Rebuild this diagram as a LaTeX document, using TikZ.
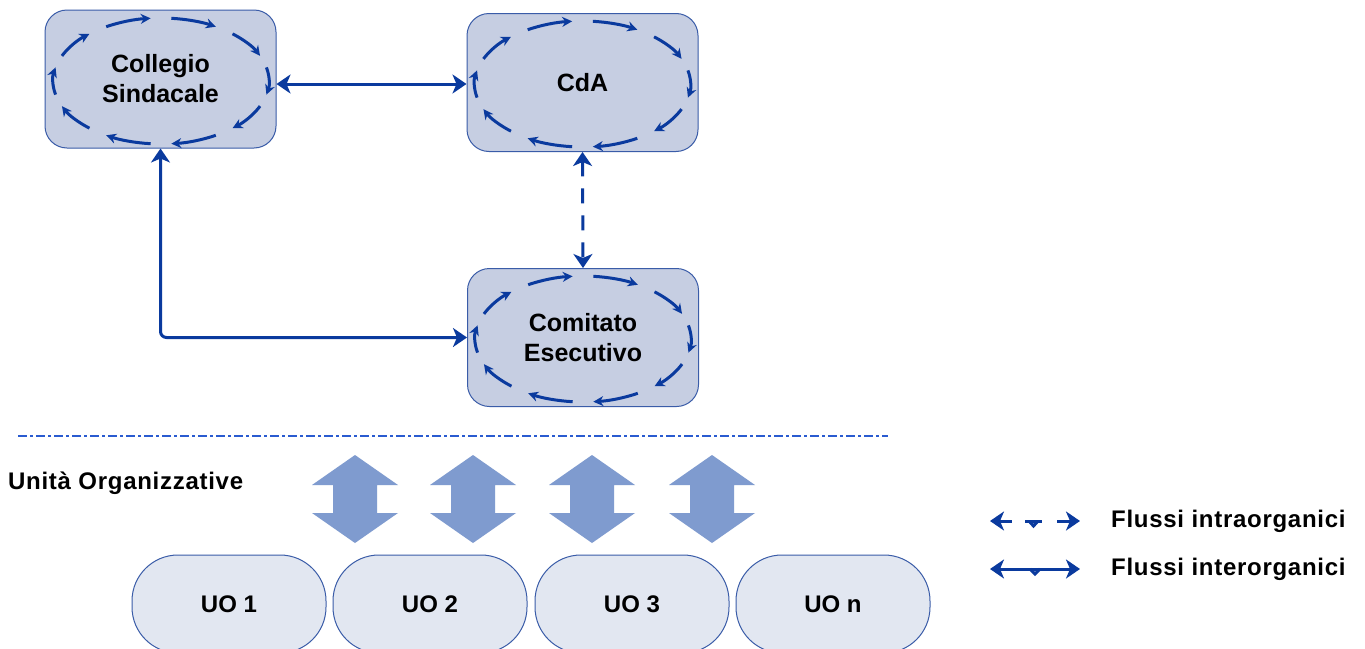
\documentclass[tikz,border=0pt]{standalone}
\usepackage{fontspec}
\setmainfont{Liberation Sans}
\newfontfamily\spaced{Liberation Sans}[LetterSpace=3]
\usetikzlibrary{arrows.meta,calc}
\definecolor{boxc}{HTML}{C6CEE2}
\definecolor{bordc}{HTML}{3A5CA8}
\definecolor{uoc}{HTML}{E2E7F1}
\definecolor{linkc}{HTML}{0A3A9E}
\definecolor{blockc}{HTML}{7F9BCF}
\definecolor{sepc}{HTML}{2A5BD0}
\tikzset{
  organ/.style={draw=bordc, fill=boxc, line width=1pt, rounded corners=22pt,
    minimum width=231pt, minimum height=138pt, align=center,
    font=\fontsize{25}{30}\selectfont\bfseries},
  uo/.style={draw=bordc, fill=uoc, line width=1pt, rounded corners=46pt,
    minimum width=194pt, minimum height=98pt,
    font=\fontsize{24}{28}\selectfont\bfseries},
  link/.style={draw=linkc, line width=3pt},
  tips/.style={{Stealth[length=14pt,width=19pt,inset=4pt]}-{Stealth[length=14pt,width=19pt,inset=4pt]}},
  ltip/.style={{Stealth[length=14pt,width=19pt,inset=4pt]}-},
  rtip/.style={-{Stealth[length=14pt,width=19pt,inset=4pt]}},
  flow/.style={draw=linkc, line width=3pt, -{Stealth[length=10pt,width=10pt]}},
  sep/.style={draw=sepc, line width=1.3pt, dash pattern=on 9pt off 3pt on 3pt off 3pt},
  lab/.style={font=\spaced\fontsize{24}{28}\selectfont\bfseries},
  updown/.pic={\fill[blockc] (0,-44) -- (43,-14) -- (22,-14) -- (22,14) -- (43,14)
     -- (0,44) -- (-43,14) -- (-22,14) -- (-22,-14) -- (-43,-14) -- cycle;}
}
\newcommand{\innerflow}[4]{%
  \foreach \k in {0,...,9}{%
    \pgfmathsetmacro{\sa}{-90+36*\k+5.5}%
    \pgfmathsetmacro{\ea}{-90+36*\k+30.5}%
    \draw[flow] (#1,#2) ++(\sa:#3 and #4) arc[start angle=\sa, end angle=\ea, x radius=#3, y radius=#4];
  }}
\begin{document}
\begin{tikzpicture}[x=1pt,y=-1pt]
\useasboundingbox (0,0) rectangle (1365,648);
\clip (0,0) rectangle (1365,648);
\fill[white] (0,0) rectangle (1365,648);

% organ boxes
\node[organ] (cs) at (160.5,79) {Collegio\\Sindacale};
\node[organ] (cda) at (582.5,82.5) {CdA};
\node[organ] (ce) at (583,337.5) {Comitato\\Esecutivo};

\innerflow{161}{81}{108}{63}
\innerflow{582.5}{84}{108}{63}
\innerflow{583}{339}{108}{63}

% connectors
\draw[link,tips] (cs.east |- 0,84) -- (cda.west |- 0,84);
\draw[link,tips,dash pattern=on 15pt off 12pt] (cda.south) -- (ce.north);
\draw[link,tips,rounded corners=6pt] (cs.south) |- (ce.west);

% separator
\coordinate (s1) at (18,436);
\coordinate (s2) at (888,436);
\draw[sep] (s1) -- (s2);

\node[lab,anchor=west,inner sep=0pt] (uol) at (8,483) {Unità Organizzative};

% block arrows
\pic at (355,499) {updown};
\pic at (473,499) {updown};
\pic at (592,499) {updown};
\pic at (712,499) {updown};

% UO boxes
\node[uo] (u1) at (229,604) {UO 1};
\node[uo] (u2) at (430,604) {UO 2};
\node[uo] (u3) at (632,604) {UO 3};
\node[uo] (u4) at (833,604) {UO n};

% legend
\coordinate (a1) at (990,521);
\coordinate (a2) at (1012,521);
\coordinate (a3) at (1025,521);
\coordinate (a4) at (1042,521);
\coordinate (a5) at (1057,521);
\coordinate (a6) at (1080,521);
\draw[link,ltip] (a1) -- (a2);
\draw[link] (a3) -- (a4);
\draw[link] ([xshift=4pt]a3) -- ([xshift=8.5pt,yshift=-5pt]a3) -- ([xshift=13pt]a3);
\draw[link,rtip] (a5) -- (a6);
\coordinate (b1) at (990,569);
\coordinate (b2) at (1080,569);
\coordinate (bm) at ($(b1)!0.5!(b2)$);
\draw[link,tips] (b1) -- (b2);
\draw[link] ([xshift=-5pt]bm) -- ([yshift=-5pt]bm) -- ([xshift=5pt]bm);
\node[lab,anchor=west,inner sep=0pt] (t1) at (1111,521) {Flussi intraorganici};
\node[lab,anchor=west,inner sep=0pt] (t2) at (1111,569) {Flussi interorganici};
\end{tikzpicture}
\end{document}
